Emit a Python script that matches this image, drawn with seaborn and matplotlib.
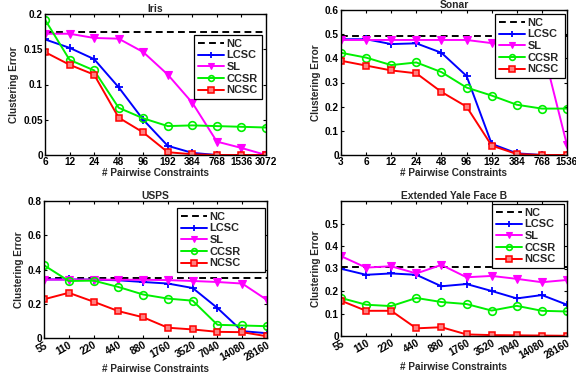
import numpy as np
import pandas as pd
import matplotlib
matplotlib.use("Agg")
import matplotlib.pyplot as plt
import seaborn as sns

sns.set_style("white")
plt.rcParams['font.family'] = ['Liberation Sans', 'DejaVu Sans']
plt.rcParams['font.weight'] = 'bold'
plt.rcParams['axes.labelweight'] = 'bold'
plt.rcParams['axes.titleweight'] = 'bold'

methods = ["NC", "LCSC", "SL", "CCSR", "NCSC"]

# ---- Iris ----
iris_x = ["6", "12", "24", "48", "96", "192", "384", "768", "1536", "3072"]
iris_nc = [0.174] * 10
iris_lcsc = [0.164, 0.152, 0.136, 0.096, 0.050, 0.013, 0.003, 0.0, 0.0, 0.0]
iris_sl = [0.172, 0.172, 0.166, 0.165, 0.146, 0.114, 0.074, 0.019, 0.010, 0.0]
iris_ccsr = [0.192, 0.135, 0.120, 0.067, 0.052, 0.041, 0.042, 0.041, 0.040, 0.039]
iris_ncsc = [0.146, 0.128, 0.114, 0.053, 0.032, 0.004, 0.001, 0.0, 0.0, 0.0]

# ---- Sonar ----
sonar_x = ["3", "6", "12", "24", "48", "96", "192", "384", "768", "1536"]
sonar_nc = [0.492] * 10
sonar_lcsc = [0.479, 0.479, 0.459, 0.462, 0.423, 0.327, 0.046, 0.007, 0.0, 0.0]
sonar_sl = [0.476, 0.476, 0.476, 0.476, 0.476, 0.476, 0.463, 0.46, 0.455, 0.041]
sonar_ccsr = [0.423, 0.403, 0.372, 0.383, 0.343, 0.279, 0.246, 0.208, 0.192, 0.192]
sonar_ncsc = [0.390, 0.370, 0.350, 0.338, 0.261, 0.200, 0.039, 0.004, 0.0, 0.0]

# ---- USPS ----
usps_x = ["55", "110", "220", "440", "880", "1760", "3520", "7040", "14080", "28160"]
usps_nc = [0.351] * 10
usps_lcsc = [0.342, 0.342, 0.341, 0.337, 0.327, 0.318, 0.292, 0.175, 0.040, 0.028]
usps_sl = [0.341, 0.341, 0.341, 0.340, 0.340, 0.338, 0.333, 0.327, 0.318, 0.222]
usps_ccsr = [0.425, 0.333, 0.335, 0.298, 0.254, 0.230, 0.218, 0.077, 0.073, 0.069]
usps_ncsc = [0.226, 0.264, 0.212, 0.157, 0.121, 0.060, 0.050, 0.036, 0.034, 0.010]

# ---- Extended Yale Face B ----
yale_x = ["55", "110", "220", "440", "880", "1760", "3520", "7040", "14080", "28160"]
yale_nc = [0.306] * 10
yale_lcsc = [0.299, 0.272, 0.278, 0.272, 0.221, 0.231, 0.200, 0.167, 0.182, 0.139]
yale_sl = [0.355, 0.304, 0.310, 0.278, 0.316, 0.261, 0.267, 0.254, 0.239, 0.249]
yale_ccsr = [0.169, 0.139, 0.133, 0.169, 0.151, 0.142, 0.113, 0.134, 0.112, 0.109]
yale_ncsc = [0.157, 0.112, 0.112, 0.034, 0.039, 0.007, 0.004, 0.003, 0.002, 0.001]

styles = {
    "NC": dict(color="black", linestyle=(0, (3.5, 2.2)), marker="None"),
    "LCSC": dict(color="#0000ff", linestyle="-", marker="+", markersize=6, markeredgewidth=1.3,
                 markerfacecolor="#0000ff", markeredgecolor="#0000ff"),
    "SL": dict(color="#ff00ff", linestyle="-", marker="v", markersize=6, markerfacecolor="#ff00ff",
               markeredgecolor="#ff00ff", markeredgewidth=0.8),
    "CCSR": dict(color="#00f000", linestyle="-", marker="o", markersize=5.5, markerfacecolor="none",
                 markeredgecolor="#00f000", markeredgewidth=1.2),
    "NCSC": dict(color="#ff0000", linestyle="-", marker="s", markersize=5, markerfacecolor="#ff8080",
                 markeredgecolor="#ff0000", markeredgewidth=1.1),
}

W, H = 576, 373
fig = plt.figure(figsize=(W / 100, H / 100), dpi=100)

def add_ax(l, r, t, b):
    return fig.add_axes([l / W, (H - b) / H, (r - l) / W, (b - t) / H])

panels = [
    dict(title="Iris", xl=iris_x, data=[iris_nc, iris_lcsc, iris_sl, iris_ccsr, iris_ncsc],
         box=(45, 266, 14, 155), ylim=(0, 0.2), yticks=[0, 0.05, 0.1, 0.15, 0.2],
         ytl=["0", "0.05", "0.1", "0.15", "0.2"], rot=0, leg=(194, 262, 35)),
    dict(title="Sonar", xl=sonar_x, data=[sonar_nc, sonar_lcsc, sonar_sl, sonar_ccsr, sonar_ncsc],
         box=(341, 567, 10, 155), ylim=(0, 0.6), yticks=[0, 0.1, 0.2, 0.3, 0.4, 0.5, 0.6],
         ytl=["0", "0.1", "0.2", "0.3", "0.4", "0.5", "0.6"], rot=0, leg=(495, 565, 14)),
    dict(title="USPS", xl=usps_x, data=[usps_nc, usps_lcsc, usps_sl, usps_ccsr, usps_ncsc],
         box=(44, 267, 201, 338), ylim=(0, 0.8), yticks=[0, 0.2, 0.4, 0.6, 0.8],
         ytl=["0", "0.2", "0.4", "0.6", "0.8"], rot=30, leg=(177, 265, 208)),
    dict(title="Extended Yale Face B", xl=yale_x, data=[yale_nc, yale_lcsc, yale_sl, yale_ccsr, yale_ncsc],
         box=(341, 567, 201, 336), ylim=(0, 0.6), yticks=[0, 0.1, 0.2, 0.3, 0.4, 0.5],
         ytl=["0", "0.1", "0.2", "0.3", "0.4", "0.5"], rot=30, leg=(492, 564, 204)),
]

FS = 7.2
FL = 7.9
for p in panels:
    l, r, t, b = p["box"]
    ax = add_ax(l, r, t, b)
    pos = np.arange(len(p["xl"]))
    for m, vals in zip(methods, p["data"]):
        sns.lineplot(x=pos, y=vals, ax=ax, label=m, sort=False, color=styles[m]["color"])
        ln = ax.lines[-1]
        ln.set(linewidth=1.4, **styles[m])
    ax.set_xlim(0, len(pos) - 1)
    ax.set_ylim(*p["ylim"])
    ax.set_xticks(pos)
    if p["rot"]:
        ax.set_xticklabels(p["xl"], rotation=p["rot"], ha="right", rotation_mode="anchor", fontsize=FS, fontweight="bold")
    else:
        ax.set_xticklabels(p["xl"], fontsize=FS, fontweight="bold")
    ax.set_yticks(p["yticks"])
    ax.set_yticklabels(p["ytl"], fontsize=FS, fontweight="bold")
    ax.tick_params(direction="in", length=2.5, width=0.8, pad=1.5, colors="black",
                   top=True, right=True, bottom=True, left=True)
    for s in ax.spines.values():
        s.set_visible(True)
        s.set_color("black")
        s.set_linewidth(1.0)
    ax.set_title(p["title"], fontsize=7.4, fontweight="bold", pad=1.5)
    ax.set_xlabel("# Pairwise Constraints", fontsize=FS, fontweight="bold", labelpad=1)
    ax.set_ylabel("Clustering Error", fontsize=FS, fontweight="bold", labelpad=3)
    ax.grid(False)
    lx0, lx1, lty = p["leg"]
    x0 = (lx0 - l) / (r - l)
    wdt = (lx1 - lx0) / (r - l)
    ytop = (b - lty) / (b - t)
    leg = ax.legend(loc="upper left", bbox_to_anchor=(x0, ytop - 0.001, wdt, 0.001), mode="expand",
                    fontsize=FL, frameon=True, fancybox=False, edgecolor="black", framealpha=1,
                    handlelength=2.4, handletextpad=0.2, borderpad=0.35, labelspacing=0.15,
                    borderaxespad=0.0, markerscale=0.75)
    leg.get_frame().set_linewidth(0.9)
    for tx in leg.get_texts():
        tx.set_fontweight("bold")

fig.savefig("out.png", dpi=100)
